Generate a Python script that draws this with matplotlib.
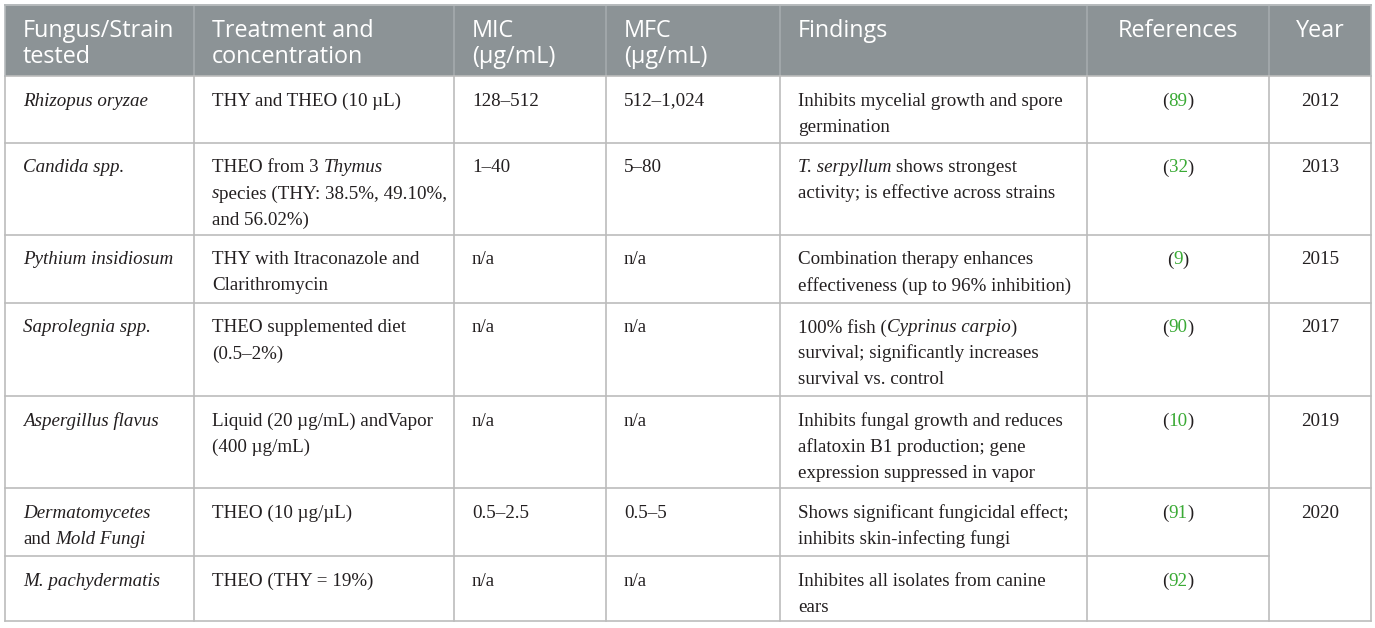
import matplotlib
matplotlib.use("Agg")
import matplotlib.pyplot as plt

# table content (* toggles italics)
headers = [["Fungus/Strain", "tested"], ["Treatment and", "concentration"],
           ["MIC", "(µg/mL)"], ["MFC", "(µg/mL)"], ["Findings"], ["References"], ["Year"]]

fungi = [["*Rhizopus oryzae*"], ["*Candida spp.*"], ["*Pythium insidiosum*"],
         ["*Saprolegnia spp.*"], ["*Aspergillus flavus*"],
         ["*Dermatomycetes*", "and *Mold Fungi*"], ["*M. pachydermatis*"]]
treatments = [["THY and THEO (10 µL)"],
              ["THEO from 3 *Thymus*", "*s*pecies (THY: 38.5%, 49.10%,", "and 56.02%)"],
              ["THY with Itraconazole and", "Clarithromycin"],
              ["THEO supplemented diet", "(0.5–2%)"],
              ["Liquid (20 µg/mL) andVapor", "(400 µg/mL)"],
              ["THEO (10 µg/µL)"],
              ["THEO (THY = 19%)"]]
mic = ["128–512", "1–40", "n/a", "n/a", "n/a", "0.5–2.5", "n/a"]
mfc = ["512–1,024", "5–80", "n/a", "n/a", "n/a", "0.5–5", "n/a"]
findings = [["Inhibits mycelial growth and spore", "germination"],
            ["*T. serpyllum* shows strongest", "activity; is effective across strains"],
            ["Combination therapy enhances", "effectiveness (up to 96% inhibition)"],
            ["100% fish (*Cyprinus carpio*)", "survival; significantly increases",
             "survival vs. control"],
            ["Inhibits fungal growth and reduces", "aflatoxin B1 production; gene",
             "expression suppressed in vapor"],
            ["Shows significant fungicidal effect;", "inhibits skin-infecting fungi"],
            ["Inhibites all isolates from canine", "ears"]]
refs = ["89", "32", "9", "90", "10", "91", "92"]
years = ["2012", "2013", "2015", "2017", "2019", "2020", None]

# layout (pixels)
col_edges = [5, 194, 454, 606, 780, 1087, 1269, 1371]
row_edges = [4.5, 76, 143, 235, 303, 396, 488, 556, 621]
pad = 18
line_h = 26

HEAD_BG = "#8c9396"
GRID = "#bcbcbc"
TXT = "#231f20"
LINK = "#3aaa35"
SERIF = "Liberation Serif"
SANS = "Open Sans"
BODY_FS = 13.7
HEAD_FS = 16.8

fig = plt.figure(figsize=(13.75, 6.28), dpi=100)
ax = fig.add_axes([0, 0, 1, 1])
ax.set_xlim(0, 1375)
ax.set_ylim(628, 0)
ax.axis("off")
renderer = fig.canvas.get_renderer()

space_cache = {}


def width_of(t):
    bb = t.get_window_extent(renderer)
    return bb.width


def space_w(family, style, size):
    key = (family, style, size)
    if key not in space_cache:
        a = ax.text(0, 0, "n n", family=family, style=style, fontsize=size)
        b = ax.text(0, 0, "nn", family=family, style=style, fontsize=size)
        space_cache[key] = width_of(a) - width_of(b)
        a.remove()
        b.remove()
    return space_cache[key]


def draw_runs(x, y, runs, family, size, ha="left"):
    # runs: list of (text, italic, color)
    items = []
    total = 0
    for txt, ital, col in runs:
        style = "italic" if ital else "normal"
        sw = space_w(family, style, size)
        lead = len(txt) - len(txt.lstrip(" "))
        trail = len(txt) - len(txt.rstrip(" "))
        core = txt.strip(" ")
        total += lead * sw
        if core:
            t = ax.text(0, y, core, family=family, style=style, fontsize=size,
                        color=col, va="baseline", ha="left")
            w = width_of(t)
            items.append((t, total))
            total += w
        total += trail * sw
    x0 = x - total / 2 if ha == "center" else x
    for t, off in items:
        t.set_x(x0 + off)


def parse(line, color=TXT):
    parts = line.split("*")
    return [(p, i % 2 == 1, color) for i, p in enumerate(parts) if p]


# header background
ax.fill_between([col_edges[0], col_edges[-1]], row_edges[0], row_edges[1],
                color=HEAD_BG, lw=0, zorder=0)
for xe in col_edges[1:-1]:
    ax.plot([xe, xe], [row_edges[0], row_edges[1]], color="#a7acaf", lw=1.1, zorder=1)
ax.plot([col_edges[0], col_edges[-1]], [row_edges[0], row_edges[0]], color="#b6babc", lw=1.4)

# header text
for j, lines in enumerate(headers):
    centered = j >= 5
    x = (col_edges[j] + col_edges[j + 1]) / 2 if centered else col_edges[j] + pad
    for k, ln in enumerate(lines):
        draw_runs(x, row_edges[0] + 32.5 + k * line_h, [(ln, False, "white")],
                  SANS, HEAD_FS, ha="center" if centered else "left")

# body grid
for i in range(1, len(row_edges)):
    y = row_edges[i]
    x_end = col_edges[-1]
    if i == 7:  # year cell spans last two rows
        x_end = col_edges[6]
    ax.plot([col_edges[0], x_end], [y, y], color=GRID, lw=1.2, zorder=1)
for xe in col_edges:
    ax.plot([xe, xe], [row_edges[1], row_edges[-1]], color=GRID, lw=1.2, zorder=1)
ax.plot([col_edges[0], col_edges[0]], [row_edges[0], row_edges[1]], color="#b6babc", lw=1.2)
ax.plot([col_edges[-1], col_edges[-1]], [row_edges[0], row_edges[1]], color="#b6babc", lw=1.2)

# body text
for i in range(len(fungi)):
    top = row_edges[i + 1]
    base = top + 29.5
    cols = [fungi[i], treatments[i], [mic[i]], [mfc[i]], findings[i]]
    for j, lines in enumerate(cols):
        for k, ln in enumerate(lines):
            draw_runs(col_edges[j] + pad, base + k * line_h, parse(ln), SERIF, BODY_FS)
    xc = (col_edges[5] + col_edges[6]) / 2
    draw_runs(xc, base, [("(", False, TXT), (refs[i], False, LINK), (")", False, TXT)],
              SERIF, BODY_FS, ha="center")
    if years[i]:
        xc = (col_edges[6] + col_edges[7]) / 2
        draw_runs(xc, base, [(years[i], False, TXT)], SERIF, BODY_FS, ha="center")

fig.savefig("out.png", dpi=100)
